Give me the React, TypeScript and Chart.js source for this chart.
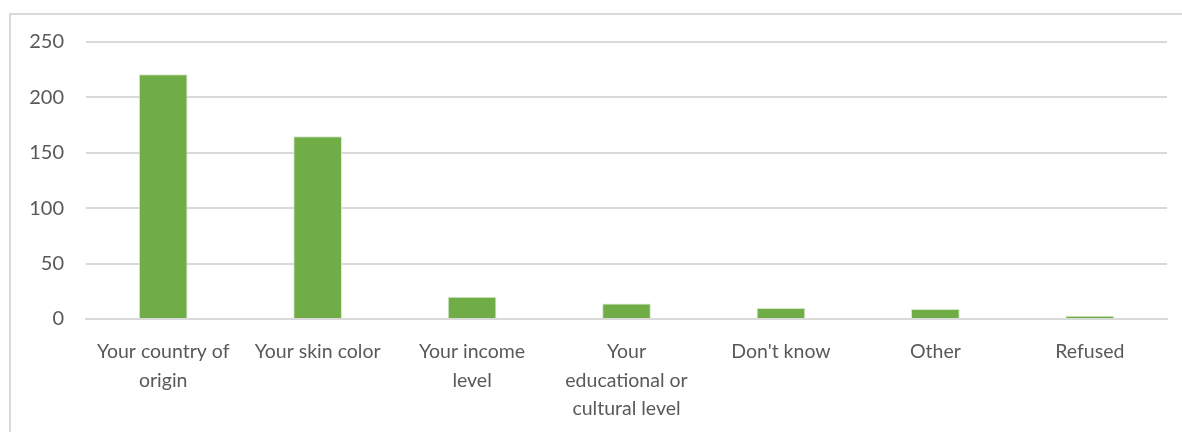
import React, { useEffect, useRef } from "react";
import { Chart, registerables } from "chart.js";

Chart.register(...registerables);

const categories: string[][] = [
  ["Your country of", "origin"],
  ["Your skin color"],
  ["Your income", "level"],
  ["Your", "educational or", "cultural level"],
  ["Don't know"],
  ["Other"],
  ["Refused"],
];
const values: number[] = [221, 165, 20, 14, 10, 9, 3];
const yMin = 0;
const yMax = 250;
const yStep = 50;

const FONT = "Lato, 'Open Sans', sans-serif";

export default function App() {
  const ref = useRef<HTMLCanvasElement | null>(null);
  useEffect(() => {
    if (!ref.current) return;
    const chart = new Chart(ref.current, {
      type: "bar",
      data: {
        labels: categories,
        datasets: [
          {
            data: values,
            backgroundColor: "#70AD47",
            borderColor: "#d5e8c8",
            borderWidth: { top: 1, left: 1, right: 1, bottom: 0 } as any,
            categoryPercentage: 1,
            barPercentage: 0.315,
          },
        ],
      },
      options: {
        animation: false,
        responsive: false,
        maintainAspectRatio: false,
        layout: { padding: { top: 42, right: 15, left: 0, bottom: 0 } },
        plugins: { legend: { display: false }, tooltip: { enabled: false } },
        scales: {
          x: {
            grid: { display: false, drawTicks: false },
            border: { display: true, color: "#d9d9d9", width: 2 },
            ticks: {
              color: "#595959",
              font: { family: FONT, size: 19.5, lineHeight: 1.48 },
              padding: 18,
              maxRotation: 0,
              autoSkip: false,
            },
            afterFit: (s: any) => {
              s.height = 432 - 319;
            },
          },
          y: {
            min: yMin,
            max: yMax,
            ticks: {
              stepSize: yStep,
              color: "#595959",
              font: { family: FONT, size: 20 },
              padding: 22,
            },
            grid: { color: "#d9d9d9", lineWidth: 2, drawTicks: false },
            border: { display: false },
            afterFit: (s: any) => {
              s.width = 86;
            },
          },
        },
      },
    });
    return () => chart.destroy();
  }, []);
  return (
    <div style={{ position: "fixed", left: 0, top: 0, width: 1182, height: 432, background: "#fff", overflow: "hidden" }}>
      <div
        style={{
          position: "absolute",
          left: 9,
          top: 13,
          width: 1200,
          height: 440,
          borderTop: "2px solid #d9d9d9",
          borderLeft: "2px solid #d9d9d9",
        }}
      />
      <canvas ref={ref} width={1182} height={432} style={{ position: "absolute", left: 0, top: 0 }} />
    </div>
  );
}
